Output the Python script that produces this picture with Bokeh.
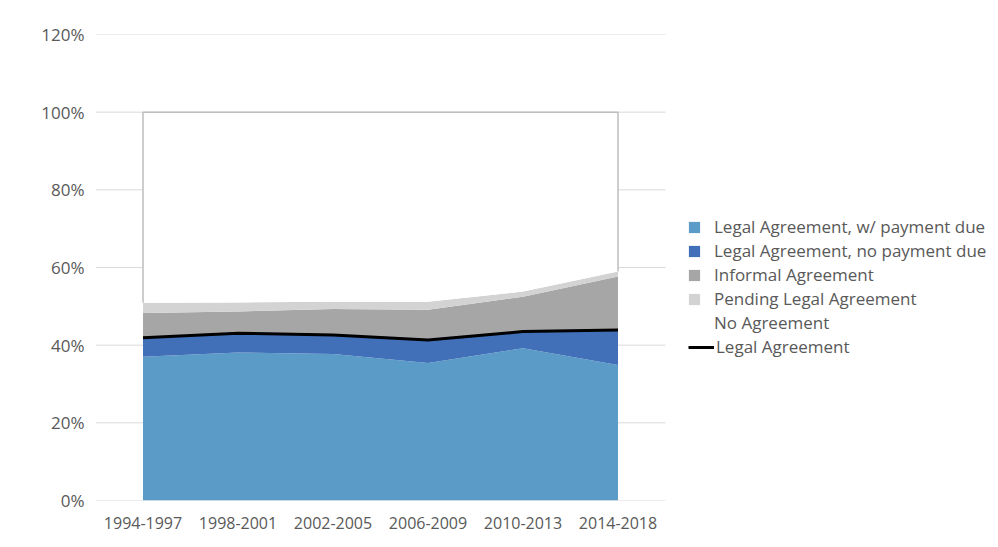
from bokeh.plotting import figure
from bokeh.models import Range1d, FixedTicker, Legend, LegendItem
from bokeh.embed import file_html
from bokeh.resources import INLINE

# ---- data (percent) ----
periods = ["1994-1997", "1998-2001", "2002-2005", "2006-2009", "2010-2013", "2014-2018"]
pay_due = [37.0, 38.1, 37.7, 35.4, 39.2, 34.9]
no_pay_due = [4.9, 5.0, 4.9, 5.9, 4.3, 9.0]
informal = [6.4, 5.6, 6.7, 7.8, 9.0, 13.8]
pending = [2.6, 2.3, 1.9, 2.1, 1.3, 1.3]
legal_agreement = [41.9, 43.1, 42.6, 41.3, 43.5, 43.9]
y_ticks = [0, 20, 40, 60, 80, 100, 120]
y_tick_labels = ["0%", "20%", "40%", "60%", "80%", "100%", "120%"]

series_names = ["Legal Agreement, w/ payment due", "Legal Agreement, no payment due",
                "Informal Agreement", "Pending Legal Agreement", "No Agreement"]
line_name = "Legal Agreement"
colors = ["#5b9bc8", "#4170b8", "#a6a6a6", "#d3d3d3", "#ffffff"]

x = list(range(len(periods)))
layers = [pay_due, no_pay_due, informal, pending]
bottoms, tops = [], []
cum = [0.0] * len(x)
for layer in layers:
    bottoms.append(cum[:])
    cum = [c + v for c, v in zip(cum, layer)]
    tops.append(cum[:])
total = cum[:]
no_agreement = [100 - t for t in total]
bottoms.append(total)
tops.append([t + n for t, n in zip(total, no_agreement)])

FONT = "Open Sans"
TXT = "#595959"

# the plotted categories occupy 570 px of a 903 px wide frame; the rest holds the legend
x_start = -0.5
x_plot_end = len(x) - 0.5
x_end = x_start + (x_plot_end - x_start) * 903 / 570

p = figure(width=998, height=547, output_backend="svg", toolbar_location=None,
           x_range=Range1d(x_start, x_end), y_range=Range1d(0, 120),
           min_border_left=95, min_border_right=0, min_border_top=34, min_border_bottom=47)
p.outline_line_color = None
p.background_fill_color = "white"
p.border_fill_color = "white"

# horizontal gridlines only across the category span
p.segment(x0=[x_start] * len(y_ticks), x1=[x_plot_end] * len(y_ticks),
          y0=y_ticks, y1=y_ticks, line_color="#d9d9d9", line_width=1)

renderers = []
for name, col, b, t in zip(series_names, colors, bottoms, tops):
    r = p.varea(x=x, y1=b, y2=t, fill_color=col, fill_alpha=1.0)
    renderers.append(r)

# outline of the "No Agreement" region
ox = [x[0], x[0], x[-1], x[-1]]
oy = [total[0], tops[-1][0], tops[-1][-1], total[-1]]
p.line(ox, oy, line_color="#bdbdbd", line_width=1.5)

lr = p.line(x, legal_agreement, line_color="black", line_width=3)

# axes
p.xaxis.ticker = FixedTicker(ticks=x)
p.xaxis.major_label_overrides = {i: s for i, s in zip(x, periods)}
p.yaxis.ticker = FixedTicker(ticks=y_ticks)
p.yaxis.major_label_overrides = {v: s for v, s in zip(y_ticks, y_tick_labels)}
for ax in (p.xaxis, p.yaxis):
    ax.axis_line_color = None
    ax.major_tick_line_color = None
    ax.minor_tick_line_color = None
    ax.major_tick_out = 0
    ax.major_tick_in = 0
    ax.minor_tick_out = 0
    ax.major_label_text_font = FONT
    ax.major_label_text_color = TXT
p.xaxis.major_label_text_font_size = "16px"
p.yaxis.major_label_text_font_size = "17px"
p.xaxis.major_label_standoff = 16
p.yaxis.major_label_standoff = 11

p.xgrid.grid_line_color = None
p.ygrid.grid_line_color = None


def style_legend(lg):
    lg.background_fill_alpha = 0
    lg.border_line_color = None
    lg.padding = 0
    lg.margin = 0
    lg.label_text_font = FONT
    lg.label_text_font_size = "17px"
    lg.label_text_color = TXT
    lg.label_height = 20
    lg.spacing = 1


items = [LegendItem(label=n, renderers=[r]) for n, r in zip(series_names, renderers)]
legend = Legend(items=items, location=(592, 166))
style_legend(legend)
legend.glyph_width = 14
legend.glyph_height = 14
legend.label_standoff = 13
p.add_layout(legend, "center")

legend2 = Legend(items=[LegendItem(label=line_name, renderers=[lr])], location=(593, 142))
style_legend(legend2)
legend2.glyph_width = 26
legend2.glyph_height = 14
legend2.label_standoff = 2
p.add_layout(legend2, "center")

open("out.html", "w").write(file_html(p, INLINE))
